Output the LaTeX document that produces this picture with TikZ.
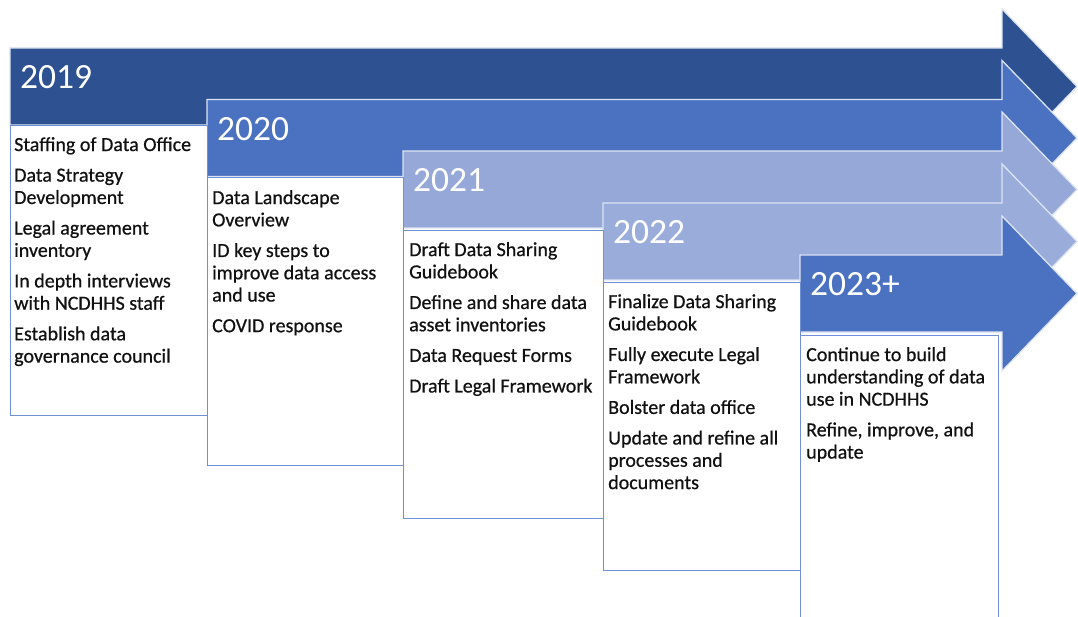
\documentclass[tikz,border=0pt]{standalone}
\usepackage{fontspec}
\setmainfont{Carlito}
\newfontfamily\boxfont[FakeBold=0.6]{Carlito}
\definecolor{cA}{HTML}{2E5191}
\definecolor{cB}{HTML}{4B71C1}
\definecolor{cC}{HTML}{95A8D8}
\definecolor{cD}{HTML}{9AADDA}
\definecolor{cE}{HTML}{4B71C1}
\definecolor{arrowedge}{HTML}{DCE3F3}
\definecolor{boxedge}{HTML}{6F8FD6}
\definecolor{txt}{HTML}{111111}
\newcommand{\tlarrow}[3]{%
  \filldraw[fill=#1, draw=arrowedge, line width=1.3pt, line join=miter]
    (#2,#3) -- (1002,#3) -- (1002,#3-39) -- (1077,#3+38.5) -- (1002,#3+116)
    -- (1002,#3+77) -- (#2,#3+77) -- cycle;}
\begin{document}
\begin{tikzpicture}[x=1pt,y=-1pt,
  yearlbl/.style={anchor=base west, inner sep=0pt, text=white,
    font=\fontsize{35.5}{40}\selectfont},
  tlbox/.style={draw=boxedge, fill=white, line width=1.4pt, anchor=north west,
    inner sep=0pt, minimum width=#1},
  tltext/.style={anchor=north west, inner sep=0pt, align=left, text=txt,
    font=\boxfont\fontsize{20}{22.3}\selectfont}]
\useasboundingbox (0,0) rectangle (1078,617);
% arrows
\tlarrow{cA}{10}{48}
\tlarrow{cB}{207}{99.5}
\tlarrow{cC}{403}{151}
\tlarrow{cD}{603}{203}
\tlarrow{cE}{800}{255}
% year labels
\node[yearlbl] (y19) at (20,89) {2019};
\node[yearlbl] (y20) at (217,140.5) {2020};
\node[yearlbl] (y21) at (413,192) {2021};
\node[yearlbl] (y22) at (613,244) {2022};
\node[yearlbl] (y23) at (810,296) {2023+};
% boxes
\node[tlbox=197pt, minimum height=290pt] (b19) at (10,125) {};
\node[tlbox=196pt, minimum height=288pt] (b20) at (207,177) {};
\node[tlbox=200pt, minimum height=288pt] (b21) at (403,230) {};
\node[tlbox=197pt, minimum height=288pt] (b22) at (603,282) {};
\node[tlbox=198pt, minimum height=300pt] (b23) at (800,335) {};
% texts
\node[tltext] (t19) at ([xshift=4pt,yshift=-12pt]b19.north west)
  {Staffing of Data Office\\[8.3pt]
   Data Strategy\\ Development\\[8.3pt]
   Legal agreement\\ inventory\\[8.3pt]
   In depth interviews\\ with NCDHHS staff\\[8.3pt]
   Establish data\\ governance council};
\node[tltext] (t20) at ([xshift=5pt,yshift=-13pt]b20.north west)
  {Data Landscape\\ Overview\\[8.3pt]
   ID key steps to\\ improve data access\\ and use\\[8.3pt]
   COVID response};
\node[tltext] (t21) at ([xshift=6pt,yshift=-12pt]b21.north west)
  {Draft Data Sharing\\ Guidebook\\[8.3pt]
   Define and share data\\ asset inventories\\[8.3pt]
   Data Request Forms\\[8.3pt]
   Draft Legal Framework};
\node[tltext] (t22) at ([xshift=5pt,yshift=-12pt]b22.north west)
  {Finalize Data Sharing\\ Guidebook\\[8.3pt]
   Fully execute Legal\\ Framework\\[8.3pt]
   Bolster data office\\[8.3pt]
   Update and refine all\\ processes and\\ documents};
\node[tltext] (t23) at ([xshift=6pt,yshift=-12pt]b23.north west)
  {Continue to build\\ understanding of data\\ use in NCDHHS\\[8.3pt]
   Refine, improve, and\\ update};
\end{tikzpicture}
\end{document}
